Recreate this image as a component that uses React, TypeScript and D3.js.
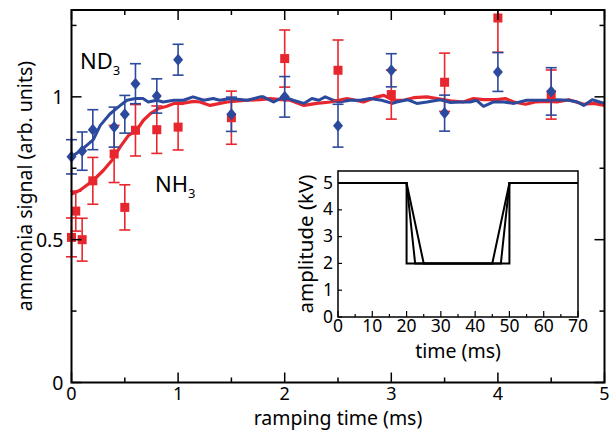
import React from "react";
import * as d3 from "d3";

// ---- data ----
const nd3X = [0, 0.1, 0.2, 0.4, 0.5, 0.6, 0.8, 1.0, 1.5, 2.0, 2.5, 3.0, 3.5, 4.0, 4.5];
const nd3Y = [0.79, 0.81, 0.885, 0.894, 0.939, 1.046, 1.003, 1.13, 0.939, 1.0, 0.899, 1.093, 0.943, 1.087, 1.019];
const nd3Err = [0.06, 0.067, 0.07, 0.07, 0.066, 0.07, 0.06, 0.054, 0.06, 0.071, 0.075, 0.058, 0.063, 0.068, 0.083];

const nh3X = [0, 0.04, 0.1, 0.2, 0.4, 0.5, 0.6, 0.8, 1.0, 1.5, 2.0, 2.5, 3.0, 3.5, 4.0, 4.5];
const nh3Y = [0.508, 0.6, 0.5, 0.706, 0.8, 0.613, 0.883, 0.885, 0.894, 0.927, 1.134, 1.093, 1.008, 1.051, 1.276, 1.008];
const nh3Err = [0.068, 0.07, 0.075, 0.082, 0.1, 0.079, 0.09, 0.083, 0.08, 0.093, 0.1, 0.106, 0.086, 0.102, 0.12, 0.086];

const nd3CurveX = [0, 0.08, 0.205, 0.27, 0.36, 0.44, 0.52, 0.6, 0.67, 0.72, 0.8, 0.86, 0.96, 1.05, 1.14, 1.24, 1.33, 1.39, 1.49, 1.65, 1.77, 1.8, 1.895, 1.99, 2.08, 2.18, 2.255, 2.32, 2.38, 2.46, 2.505, 2.615, 2.71, 2.8, 2.91, 3.01, 3.05, 3.15, 3.24, 3.335, 3.46, 3.555, 3.65, 3.74, 3.8, 3.865, 3.96, 4.055, 4.15, 4.27, 4.37, 4.46, 4.555, 4.665, 4.745, 4.805, 4.885, 5.0];
const nd3CurveY = [0.79, 0.81, 0.85, 0.9, 0.94, 0.965, 0.988, 0.994, 0.994, 0.982, 0.988, 0.982, 0.988, 0.988, 1.0, 0.988, 0.994, 0.988, 0.994, 0.988, 1.0, 1.0, 0.982, 1.0, 0.988, 0.977, 0.994, 0.988, 1.0, 0.988, 0.982, 0.988, 0.988, 0.994, 0.988, 0.977, 0.982, 0.99, 0.977, 0.982, 0.99, 0.98, 0.982, 0.982, 0.988, 0.967, 0.982, 0.982, 0.977, 0.988, 0.988, 0.988, 0.99, 0.988, 0.982, 0.97, 0.99, 0.977];

const nh3CurveX = [0, 0.08, 0.205, 0.3, 0.38, 0.455, 0.535, 0.61, 0.675, 0.74, 0.815, 0.895, 0.97, 1.05, 1.145, 1.205, 1.3, 1.46, 1.645, 1.77, 1.865, 1.96, 2.05, 2.18, 2.3, 2.43, 2.585, 2.74, 2.865, 2.93, 3.02, 3.115, 3.21, 3.335, 3.43, 3.555, 3.675, 3.77, 3.865, 3.99, 4.07, 4.15, 4.26, 4.35, 4.46, 4.555, 4.665, 4.805, 4.9, 5.0];
const nh3CurveY = [0.66, 0.673, 0.708, 0.743, 0.778, 0.824, 0.865, 0.883, 0.918, 0.941, 0.959, 0.967, 0.978, 0.978, 0.984, 0.982, 0.97, 0.982, 0.988, 0.99, 0.994, 0.99, 0.988, 0.97, 0.977, 0.982, 0.994, 0.982, 1.0, 1.005, 0.988, 0.988, 0.997, 1.0, 0.994, 0.986, 0.982, 0.994, 0.99, 0.99, 0.994, 0.982, 0.974, 0.982, 0.984, 0.982, 0.99, 0.974, 0.977, 0.97];

const mainXTicks = [0, 1, 2, 3, 4, 5];
const mainXMinor = [0.5, 1.5, 2.5, 3.5, 4.5];
const mainYTicks = [0, 0.5, 1];
const mainYMinor = [0.25, 0.75, 1.25];

// inset: three voltage ramps (time ms, kV)
const rampT1 = [0, 20, 20, 50, 50, 70];
const rampT2 = [0, 20, 22.5, 47.5, 50, 70];
const rampT3 = [0, 20, 25, 45, 50, 70];
const rampV = [5, 5, 2, 2, 5, 5];
const insetXTicks = [0, 10, 20, 30, 40, 50, 60, 70];
const insetXMinor = [5, 15, 25, 35, 45, 55, 65];
const insetYTicks = [0, 1, 2, 3, 4, 5];

const BLUE = "#2b4a9d";
const RED = "#e8262d";
const FONT = "'Noto Sans', 'DejaVu Sans', sans-serif";

export default function App() {
  const L = 71.5, R = 604.5, T = 10, B = 382.5;
  const x = d3.scaleLinear().domain([0, 5]).range([L, R]);
  const y = d3.scaleLinear().domain([0, 1.304]).range([B, T]);

  const IL = 338, IR = 578, IT = 171, IB = 317;
  const ix = d3.scaleLinear().domain([0, 70]).range([IL, IR]);
  const iy = d3.scaleLinear().domain([0, 5.45]).range([IB, IT]);

  const line = d3.line<[number, number]>().x(d => x(d[0])).y(d => y(d[1])).curve(d3.curveLinear);
  const iline = d3.line<[number, number]>().x(d => ix(d[0])).y(d => iy(d[1]));

  const nd3Curve = nd3CurveX.map((v, i) => [v, nd3CurveY[i]] as [number, number]);
  const nh3Curve = nh3CurveX.map((v, i) => [v, nh3CurveY[i]] as [number, number]);
  const ramps = [rampT1, rampT2, rampT3].map(ts => ts.map((t, i) => [t, rampV[i]] as [number, number]));

  const cap = 5.5;
  const errBars = (xs: number[], ys: number[], es: number[], color: string) =>
    xs.map((xv, i) => {
      const cx = x(xv);
      const y1 = Math.max(y(ys[i] + es[i]), T);
      const y2 = y(ys[i] - es[i]);
      return (
        <g key={i} stroke={color} strokeWidth={1.6} fill="none">
          <line x1={cx} x2={cx} y1={y1} y2={y2} />
          {y(ys[i] + es[i]) >= T && <line x1={cx - cap} x2={cx + cap} y1={y1} y2={y1} />}
          <line x1={cx - cap} x2={cx + cap} y1={y2} y2={y2} />
        </g>
      );
    });

  return (
    <svg width={611} height={431} style={{ position: "absolute", left: 0, top: 0, background: "#fff" }} fontFamily={FONT}>
      <rect x={0} y={0} width={611} height={431} fill="#fff" />
      {/* curves */}
      <path d={line(nh3Curve) || ""} fill="none" stroke={RED} strokeWidth={3.2} strokeLinejoin="round" />
      <path d={line(nd3Curve) || ""} fill="none" stroke={BLUE} strokeWidth={3} strokeLinejoin="round" />
      {/* error bars */}
      {errBars(nh3X, nh3Y, nh3Err, RED)}
      {errBars(nd3X, nd3Y, nd3Err, BLUE)}
      {/* markers */}
      {nh3X.map((xv, i) => (
        <rect key={"s" + i} x={x(xv) - 4.5} y={y(nh3Y[i]) - 4.5} width={9} height={9} fill={RED} />
      ))}
      {nd3X.map((xv, i) => {
        const cx = x(xv), cy = y(nd3Y[i]);
        return <path key={"d" + i} d={`M${cx},${cy - 6}L${cx + 5},${cy}L${cx},${cy + 6}L${cx - 5},${cy}Z`} fill={BLUE} />;
      })}

      {/* frame */}
      <rect x={L} y={T} width={R - L} height={B - T} fill="none" stroke="#000" strokeWidth={2} />
      {mainXTicks.map(t => (
        <g key={"xt" + t} stroke="#000" strokeWidth={1.5}>
          <line x1={x(t)} x2={x(t)} y1={B} y2={B - 10} />
          <line x1={x(t)} x2={x(t)} y1={T} y2={T + 10} />
        </g>
      ))}
      {mainXMinor.map(t => (
        <g key={"xm" + t} stroke="#000" strokeWidth={1.5}>
          <line x1={x(t)} x2={x(t)} y1={B} y2={B - 5} />
          <line x1={x(t)} x2={x(t)} y1={T} y2={T + 5} />
        </g>
      ))}
      {mainYTicks.map(t => (
        <g key={"yt" + t} stroke="#000" strokeWidth={1.5}>
          <line x1={L} x2={L + 10} y1={y(t)} y2={y(t)} />
          <line x1={R} x2={R - 10} y1={y(t)} y2={y(t)} />
        </g>
      ))}
      {mainYMinor.map(t => (
        <g key={"ym" + t} stroke="#000" strokeWidth={1.5}>
          <line x1={L} x2={L + 5} y1={y(t)} y2={y(t)} />
          <line x1={R} x2={R - 5} y1={y(t)} y2={y(t)} />
        </g>
      ))}
      {mainXTicks.map(t => (
        <text key={"xl" + t} x={x(t)} y={B + 17.5} fontSize={18} textAnchor="middle">{t}</text>
      ))}
      {mainYTicks.map(t => (
        <text key={"yl" + t} x={L - 8} y={y(t) + 7} fontSize={19.5} textAnchor="end">{t}</text>
      ))}
      <text x={x(2.5)} y={425} fontSize={19.5} textAnchor="middle">ramping time (ms)</text>
      <text transform={`translate(32,186) rotate(-90)`} fontSize={19.5} textAnchor="middle">ammonia signal (arb. units)</text>

      {/* series labels */}
      <text x={80} y={69} fontSize={22}>ND<tspan fontSize={13} dy={6}>3</tspan></text>
      <text x={155} y={192} fontSize={22}>NH<tspan fontSize={13} dy={6}>3</tspan></text>

      {/* inset */}
      <rect x={IL} y={IT} width={IR - IL} height={IB - IT} fill="#fff" stroke="#000" strokeWidth={1.5} />
      {ramps.map((r, i) => (
        <path key={"r" + i} d={iline(r) || ""} fill="none" stroke="#000" strokeWidth={2} strokeLinejoin="miter" />
      ))}
      {insetXTicks.map(t => (
        <line key={"ixt" + t} x1={ix(t)} x2={ix(t)} y1={IB} y2={IB - 6} stroke="#000" strokeWidth={1.2} />
      ))}
      {insetXMinor.map(t => (
        <line key={"ixm" + t} x1={ix(t)} x2={ix(t)} y1={IB} y2={IB - 3} stroke="#000" strokeWidth={1.2} />
      ))}
      {insetYTicks.map(t => (
        <line key={"iyt" + t} x1={IL} x2={IL + 4} y1={iy(t)} y2={iy(t)} stroke="#000" strokeWidth={1.2} />
      ))}
      {insetXTicks.map(t => (
        <text key={"ixl" + t} x={ix(t)} y={IB + 15} fontSize={17.5} textAnchor="middle">{t}</text>
      ))}
      {insetYTicks.map(t => (
        <text key={"iyl" + t} x={IL - 5} y={iy(t) + 5.5} fontSize={17.5} textAnchor="end">{t}</text>
      ))}
      <text x={ix(35)} y={358} fontSize={19.5} textAnchor="middle">time (ms)</text>
      <text transform={`translate(313,${(IT + IB) / 2}) rotate(-90)`} fontSize={20.5} textAnchor="middle">amplitude (kV)</text>
    </svg>
  );
}
